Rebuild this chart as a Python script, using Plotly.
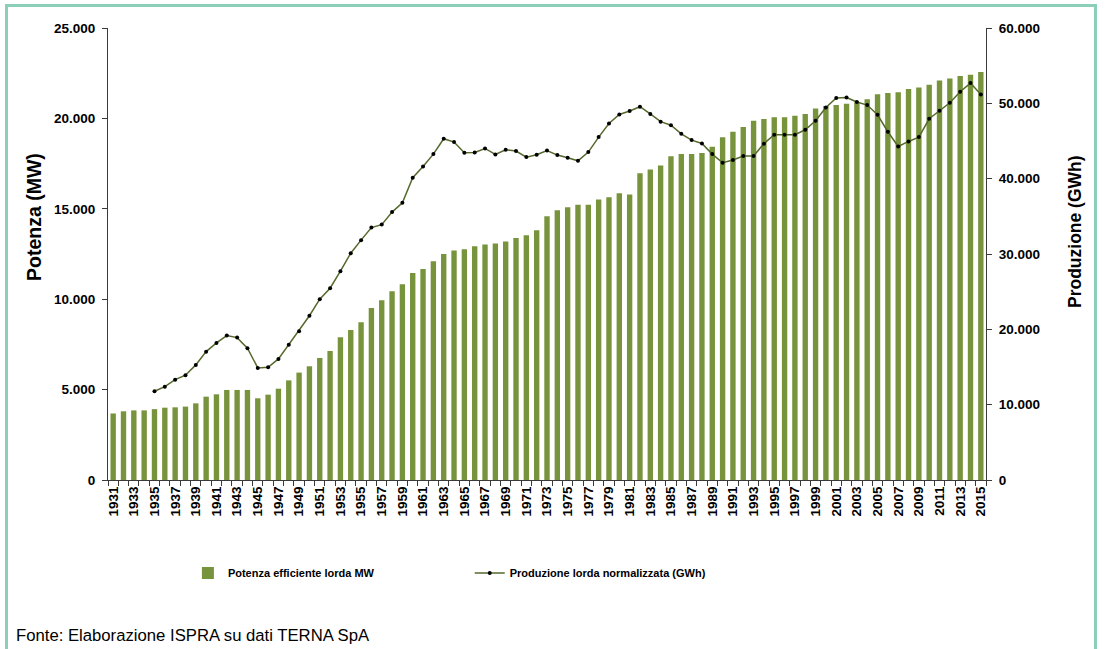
import plotly.graph_objects as go

# Potenza efficiente lorda (MW), 1931-2015
years = list(range(1931, 2016))
potenza_mw = [
    3680, 3800, 3850, 3850, 3920, 4000, 4020, 4060, 4240, 4610,   # 1931-1940
    4740, 4980, 4980, 4980, 4520, 4720, 5050, 5510, 5940, 6290,   # 1941-1950
    6750, 7140, 7890, 8300, 8720, 9520, 9940, 10440, 10830, 11450,  # 1951-1960
    11670, 12100, 12500, 12690, 12760, 12930, 13020, 13080, 13190, 13390,  # 1961-1970
    13540, 13820, 14590, 14920, 15090, 15220, 15220, 15520, 15640, 15860,  # 1971-1980
    15790, 16970, 17180, 17400, 17900, 18030, 18030, 18090, 18430, 18960,  # 1981-1990
    19260, 19530, 19870, 19960, 20060, 20060, 20140, 20240, 20550, 20680,  # 1991-2000
    20740, 20810, 20900, 21060, 21340, 21400, 21440, 21620, 21710, 21860,  # 2001-2010
    22100, 22210, 22340, 22410, 22560,                                      # 2011-2015
]

# Produzione lorda normalizzata (GWh), 1935-2015
prod_years = list(range(1935, 2016))
produzione_gwh = [
    11780, 12390, 13320, 13910, 15280, 17040,                       # 1935-1940
    18200, 19170, 18900, 17490, 14880, 14970, 16070, 17970, 19750, 21800,  # 1941-1950
    24000, 25460, 27720, 30110, 31840, 33510, 33900, 35560, 36790, 40120,  # 1951-1960
    41620, 43260, 45300, 44860, 43440, 43480, 44010, 43210, 43830, 43660,  # 1961-1970
    42860, 43170, 43740, 43130, 42770, 42370, 43530, 45520, 47330, 48520,  # 1971-1980
    48980, 49550, 48600, 47570, 47090, 45960, 45120, 44670, 43260, 42110,  # 1981-1990
    42470, 43000, 43000, 44650, 45830, 45830, 45830, 46490, 47690, 49450,  # 1991-2000
    50700, 50780, 50170, 49770, 48480, 46230, 44270, 44940, 45520, 47950,  # 2001-2010
    49010, 50080, 51540, 52690, 51180,                                      # 2011-2015
]

year_labels = [str(y) for y in years[::2]]
year_boundaries = [y - 0.5 for y in years] + [years[-1] + 0.5]

BAR_GREEN = "#77933C"
LINE_GREEN = "#55692C"
AXIS_COLOR = "#3a3a3a"
FONT = "Liberation Sans, Arial, sans-serif"

fig = go.Figure()

fig.add_trace(go.Bar(
    x=years, y=potenza_mw,
    name="Potenza efficiente lorda MW",
    marker=dict(color=BAR_GREEN, line=dict(width=0)),
    width=0.52,
    yaxis="y",
    legend="legend",
))

fig.add_trace(go.Scatter(
    x=prod_years, y=produzione_gwh,
    name="Produzione lorda normalizzata (GWh)",
    mode="lines+markers",
    line=dict(color=LINE_GREEN, width=1.5),
    marker=dict(color="#000000", size=4),
    yaxis="y2",
    legend="legend2",
))

tick_font = dict(family=FONT, size=13.5, color="#000000", weight="bold")
legend_font = dict(family=FONT, size=11, color="#000000", weight="bold")

fig.update_layout(
    width=1105, height=649,
    margin=dict(l=108, r=119, t=28, b=169),
    paper_bgcolor="#ffffff",
    plot_bgcolor="#ffffff",
    separators=",.",
    font=dict(family=FONT, color="#000000"),
    xaxis=dict(
        range=[1930.5, 2015.5],
        tickmode="array",
        tickvals=years[::2],
        ticktext=year_labels,
        tickangle=-90,
        ticks="",
        tickfont=tick_font,
        showgrid=False, zeroline=False,
        showline=True, linecolor=AXIS_COLOR, linewidth=1,
        minor=dict(tickmode="array", tickvals=year_boundaries,
                   ticks="outside", ticklen=5, tickcolor=AXIS_COLOR, showgrid=False),
    ),
    yaxis=dict(
        range=[0, 25000], dtick=5000, tickformat=",d",
        ticks="outside", ticklen=5, tickcolor=AXIS_COLOR,
        tickfont=tick_font, ticklabelstandoff=4,
        showgrid=False, zeroline=False,
        showline=True, linecolor=AXIS_COLOR, linewidth=1,
    ),
    yaxis2=dict(
        range=[0, 60000], dtick=10000, tickformat=",d",
        overlaying="y", side="right",
        ticks="outside", ticklen=5, tickcolor=AXIS_COLOR,
        tickfont=tick_font, ticklabelstandoff=4,
        showgrid=False, zeroline=False,
        showline=True, linecolor=AXIS_COLOR, linewidth=1,
    ),
    legend=dict(
        x=0.091, y=-0.206, xanchor="left", yanchor="middle",
        bgcolor="rgba(0,0,0,0)", itemwidth=30, font=legend_font,
    ),
    legend2=dict(
        x=0.412, y=-0.206, xanchor="left", yanchor="middle",
        bgcolor="rgba(0,0,0,0)", itemwidth=30, font=legend_font,
    ),
    showlegend=True,
)

# Axis titles
fig.add_annotation(
    text="Potenza (MW)", textangle=-90,
    xref="paper", yref="paper", x=-0.0843, y=0.5819,
    xanchor="center", yanchor="middle", showarrow=False,
    font=dict(family=FONT, size=19.5, color="#000000", weight="bold"),
)
fig.add_annotation(
    text="Produzione (GWh)", textangle=-90,
    xref="paper", yref="paper", x=1.1014, y=0.5487,
    xanchor="center", yanchor="middle", showarrow=False,
    font=dict(family=FONT, size=17.5, color="#000000", weight="bold"),
)

# Frame around the whole figure
fig.add_shape(
    type="rect", xref="paper", yref="paper",
    x0=-0.1156, x1=1.1247, y0=-0.45, y1=1.0498,
    line=dict(color="#8CCFB9", width=3),
    fillcolor="rgba(0,0,0,0)", layer="below",
)

# Source note
fig.add_annotation(
    text="Fonte: Elaborazione ISPRA su dati TERNA SpA",
    xref="paper", yref="paper",
    x=-0.107, y=-0.343, xanchor="left", yanchor="middle",
    showarrow=False,
    font=dict(family=FONT, size=16.7, color="#000000"),
)

fig.write_html("out.html")
